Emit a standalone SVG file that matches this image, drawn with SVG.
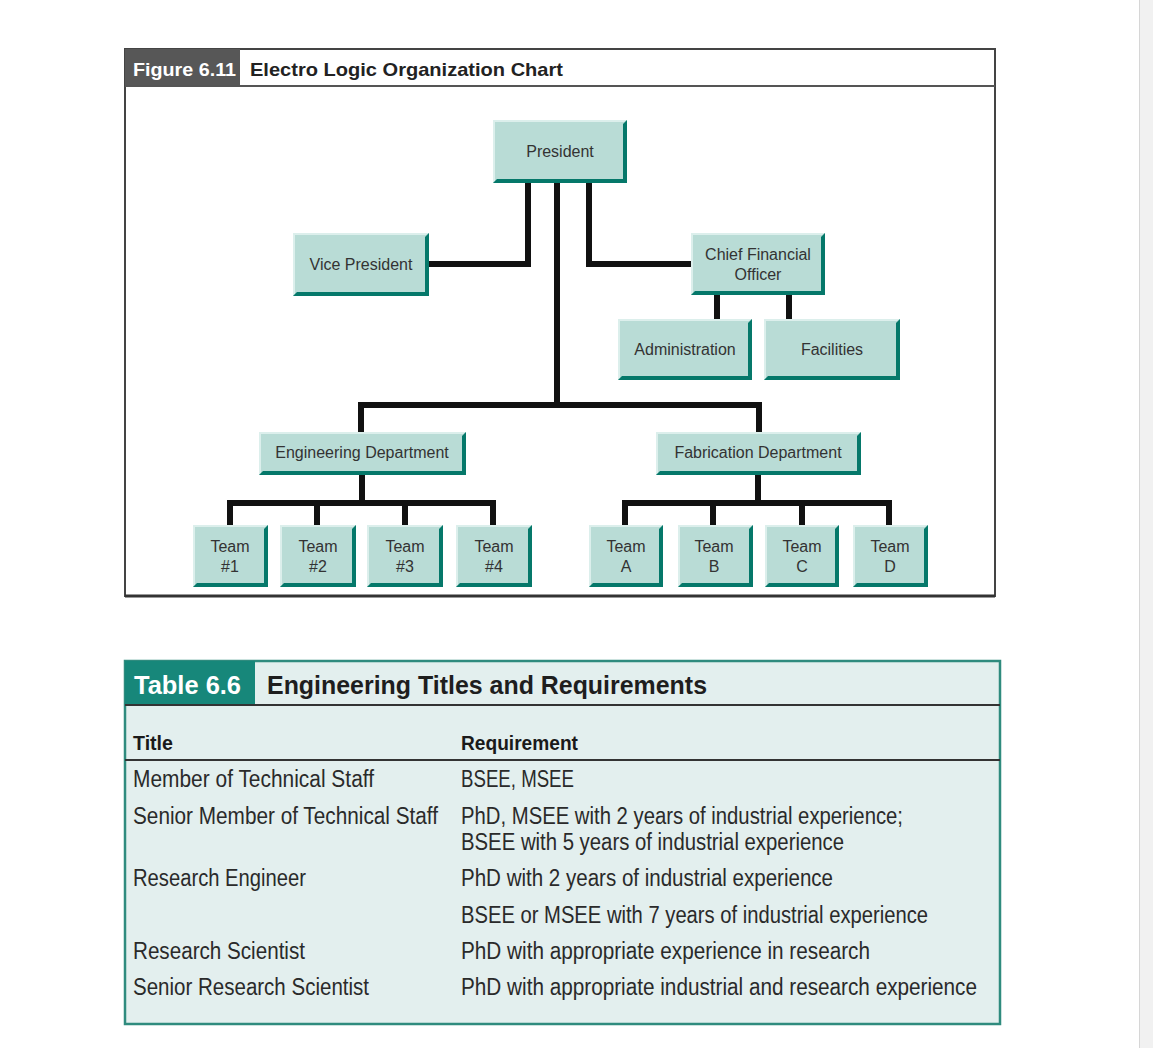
<svg xmlns="http://www.w3.org/2000/svg" width="1153" height="1048" viewBox="0 0 1153 1048">
<defs>
<style>
.bx{fill:#b9dcd6}
.hi{fill:#dcefec}
.sh{fill:#05786a}
.nt{font-family:"Liberation Sans",Arial,sans-serif;font-size:16px;fill:#333;text-anchor:middle}
.ln{stroke:#111;stroke-width:6;fill:none;stroke-linejoin:miter}
.tt{font-family:"Liberation Sans",Arial,sans-serif;font-size:23px;fill:#2a2a2a}
.tb{font-family:"Liberation Sans",Arial,sans-serif;font-size:20px;font-weight:bold;fill:#1a1a1a}
</style>
</defs>
<rect x="0" y="0" width="1153" height="1048" fill="#ffffff"/>
<rect x="1139" y="0" width="14" height="1048" fill="#f1f1f1"/>
<line x1="1139.5" y1="0" x2="1139.5" y2="1048" stroke="#d6d6d6" stroke-width="1"/>

<g id="figure-frame">
<rect x="125" y="49" width="870" height="547" fill="none" stroke="#444" stroke-width="2"/>
<rect x="125" y="49" width="115" height="37" fill="#575757"/>
<line x1="125" y1="86" x2="995" y2="86" stroke="#555" stroke-width="2"/>
<line x1="125" y1="596" x2="995" y2="596" stroke="#333" stroke-width="3"/>
<text x="133" y="76" font-family="'Liberation Sans',Arial,sans-serif" font-size="19" font-weight="bold" fill="#ffffff" textLength="103" lengthAdjust="spacingAndGlyphs">Figure 6.11</text>
<text x="250" y="76" font-family="'Liberation Sans',Arial,sans-serif" font-size="19" font-weight="bold" fill="#222" textLength="313" lengthAdjust="spacingAndGlyphs">Electro Logic Organization Chart</text>
</g>

<g id="connectors">
<path class="ln" d="M528 183 V264 H429"/>
<path class="ln" d="M589 183 V264 H691"/>
<path class="ln" d="M557 183 V405"/>
<path class="ln" d="M361 432 V405 H759 V432"/>
<path class="ln" d="M717 295 V319"/>
<path class="ln" d="M789 295 V319"/>
<path class="ln" d="M362 475 V503"/>
<path class="ln" d="M230 525 V503 H493 V525"/>
<path class="ln" d="M317 503 V525"/>
<path class="ln" d="M405 503 V525"/>
<path class="ln" d="M758 475 V503"/>
<path class="ln" d="M625 525 V503 H889 V525"/>
<path class="ln" d="M713 503 V525"/>
<path class="ln" d="M802 503 V525"/>
</g>

<g id="president">
<rect class="bx" x="493" y="120" width="134" height="63"/>
<path class="hi" d="M493 120 H627 L624 122 H495 V181 L493 183 Z"/>
<path class="sh" d="M627 120 V183 H493 L497 179 H623 V124 Z"/>
<text class="nt" x="560" y="157">President</text>
</g>

<g id="vice-president">
<rect class="bx" x="293" y="233" width="136" height="63"/>
<path class="hi" d="M293 233 H429 L426 235 H295 V294 L293 296 Z"/>
<path class="sh" d="M429 233 V296 H293 L297 292 H425 V237 Z"/>
<text class="nt" x="361" y="270">Vice President</text>
</g>

<g id="cfo">
<rect class="bx" x="691" y="233" width="134" height="62"/>
<path class="hi" d="M691 233 H825 L822 235 H693 V293 L691 295 Z"/>
<path class="sh" d="M825 233 V295 H691 L695 291 H821 V237 Z"/>
<text class="nt" x="758" y="260">Chief Financial</text>
<text class="nt" x="758" y="280">Officer</text>
</g>

<g id="administration">
<rect class="bx" x="618" y="319" width="134" height="61"/>
<path class="hi" d="M618 319 H752 L749 321 H620 V378 L618 380 Z"/>
<path class="sh" d="M752 319 V380 H618 L622 376 H748 V323 Z"/>
<text class="nt" x="685" y="355">Administration</text>
</g>

<g id="facilities">
<rect class="bx" x="764" y="319" width="136" height="61"/>
<path class="hi" d="M764 319 H900 L897 321 H766 V378 L764 380 Z"/>
<path class="sh" d="M900 319 V380 H764 L768 376 H896 V323 Z"/>
<text class="nt" x="832" y="355">Facilities</text>
</g>

<g id="engineering-department">
<rect class="bx" x="259" y="432" width="207" height="43"/>
<path class="hi" d="M259 432 H466 L463 434 H261 V473 L259 475 Z"/>
<path class="sh" d="M466 432 V475 H259 L263 471 H462 V436 Z"/>
<text class="nt" x="362" y="458">Engineering Department</text>
</g>

<g id="fabrication-department">
<rect class="bx" x="656" y="432" width="205" height="43"/>
<path class="hi" d="M656 432 H861 L858 434 H658 V473 L656 475 Z"/>
<path class="sh" d="M861 432 V475 H656 L660 471 H857 V436 Z"/>
<text class="nt" x="758" y="458">Fabrication Department</text>
</g>

<g id="team-1">
<rect class="bx" x="193" y="525" width="75" height="62"/>
<path class="hi" d="M193 525 H268 L265 527 H195 V585 L193 587 Z"/>
<path class="sh" d="M268 525 V587 H193 L197 583 H264 V529 Z"/>
<text class="nt" x="230" y="552">Team</text><text class="nt" x="230" y="572">#1</text>
</g>
<g id="team-2">
<rect class="bx" x="280" y="525" width="76" height="62"/>
<path class="hi" d="M280 525 H356 L353 527 H282 V585 L280 587 Z"/>
<path class="sh" d="M356 525 V587 H280 L284 583 H352 V529 Z"/>
<text class="nt" x="318" y="552">Team</text><text class="nt" x="318" y="572">#2</text>
</g>
<g id="team-3">
<rect class="bx" x="367" y="525" width="76" height="62"/>
<path class="hi" d="M367 525 H443 L440 527 H369 V585 L367 587 Z"/>
<path class="sh" d="M443 525 V587 H367 L371 583 H439 V529 Z"/>
<text class="nt" x="405" y="552">Team</text><text class="nt" x="405" y="572">#3</text>
</g>
<g id="team-4">
<rect class="bx" x="456" y="525" width="76" height="62"/>
<path class="hi" d="M456 525 H532 L529 527 H458 V585 L456 587 Z"/>
<path class="sh" d="M532 525 V587 H456 L460 583 H528 V529 Z"/>
<text class="nt" x="494" y="552">Team</text><text class="nt" x="494" y="572">#4</text>
</g>
<g id="team-a">
<rect class="bx" x="589" y="525" width="74" height="62"/>
<path class="hi" d="M589 525 H663 L660 527 H591 V585 L589 587 Z"/>
<path class="sh" d="M663 525 V587 H589 L593 583 H659 V529 Z"/>
<text class="nt" x="626" y="552">Team</text><text class="nt" x="626" y="572">A</text>
</g>
<g id="team-b">
<rect class="bx" x="678" y="525" width="75" height="62"/>
<path class="hi" d="M678 525 H753 L750 527 H680 V585 L678 587 Z"/>
<path class="sh" d="M753 525 V587 H678 L682 583 H749 V529 Z"/>
<text class="nt" x="714" y="552">Team</text><text class="nt" x="714" y="572">B</text>
</g>
<g id="team-c">
<rect class="bx" x="765" y="525" width="74" height="62"/>
<path class="hi" d="M765 525 H839 L836 527 H767 V585 L765 587 Z"/>
<path class="sh" d="M839 525 V587 H765 L769 583 H835 V529 Z"/>
<text class="nt" x="802" y="552">Team</text><text class="nt" x="802" y="572">C</text>
</g>
<g id="team-d">
<rect class="bx" x="853" y="525" width="75" height="62"/>
<path class="hi" d="M853 525 H928 L925 527 H855 V585 L853 587 Z"/>
<path class="sh" d="M928 525 V587 H853 L857 583 H924 V529 Z"/>
<text class="nt" x="890" y="552">Team</text><text class="nt" x="890" y="572">D</text>
</g>

<g id="table">
<rect x="125" y="661" width="875" height="363" fill="#e3efee" stroke="#2f8b7e" stroke-width="2.5"/>
<rect x="125" y="661" width="130" height="44" fill="#17877a"/>
<line x1="125" y1="705" x2="1000" y2="705" stroke="#333" stroke-width="2"/>
<line x1="125" y1="760" x2="1000" y2="760" stroke="#333" stroke-width="2"/>
<text x="134" y="694" font-family="'Liberation Sans',Arial,sans-serif" font-size="25" font-weight="bold" fill="#ffffff" textLength="107" lengthAdjust="spacingAndGlyphs">Table 6.6</text>
<text x="267" y="694" font-family="'Liberation Sans',Arial,sans-serif" font-size="25" font-weight="bold" fill="#1e1e1e" textLength="440" lengthAdjust="spacingAndGlyphs">Engineering Titles and Requirements</text>
<text class="tb" x="133" y="750" textLength="40" lengthAdjust="spacingAndGlyphs">Title</text>
<text class="tb" x="461" y="750" textLength="117" lengthAdjust="spacingAndGlyphs">Requirement</text>
<text class="tt" x="133" y="787" textLength="241" lengthAdjust="spacingAndGlyphs">Member of Technical Staff</text>
<text class="tt" x="461" y="787" textLength="113" lengthAdjust="spacingAndGlyphs">BSEE, MSEE</text>
<text class="tt" x="133" y="824" textLength="305" lengthAdjust="spacingAndGlyphs">Senior Member of Technical Staff</text>
<text class="tt" x="461" y="824" textLength="442" lengthAdjust="spacingAndGlyphs">PhD, MSEE with 2 years of industrial experience;</text>
<text class="tt" x="461" y="850" textLength="383" lengthAdjust="spacingAndGlyphs">BSEE with 5 years of industrial experience</text>
<text class="tt" x="133" y="886" textLength="173" lengthAdjust="spacingAndGlyphs">Research Engineer</text>
<text class="tt" x="461" y="886" textLength="372" lengthAdjust="spacingAndGlyphs">PhD with 2 years of industrial experience</text>
<text class="tt" x="461" y="923" textLength="467" lengthAdjust="spacingAndGlyphs">BSEE or MSEE with 7 years of industrial experience</text>
<text class="tt" x="133" y="959" textLength="172" lengthAdjust="spacingAndGlyphs">Research Scientist</text>
<text class="tt" x="461" y="959" textLength="409" lengthAdjust="spacingAndGlyphs">PhD with appropriate experience in research</text>
<text class="tt" x="133" y="995" textLength="236" lengthAdjust="spacingAndGlyphs">Senior Research Scientist</text>
<text class="tt" x="461" y="995" textLength="516" lengthAdjust="spacingAndGlyphs">PhD with appropriate industrial and research experience</text>
</g>
</svg>
